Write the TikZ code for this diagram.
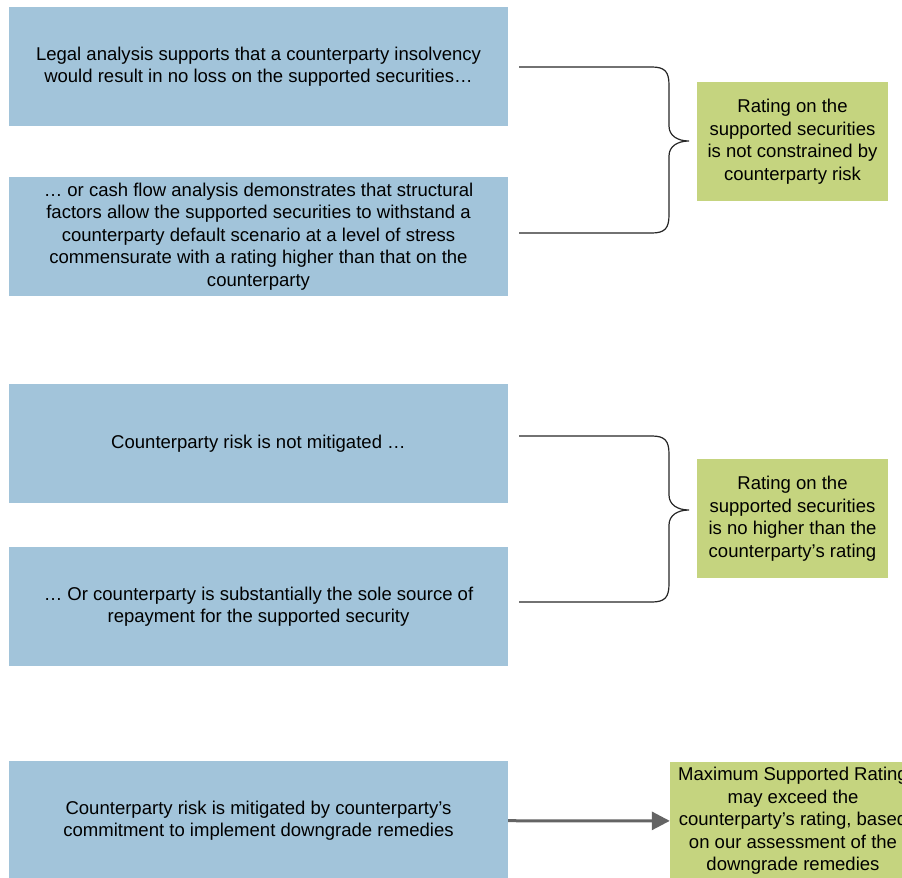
\documentclass[tikz,border=0pt]{standalone}
\usepackage{fontspec}
\setmainfont{Liberation Sans}
\usetikzlibrary{positioning,arrows.meta}
\definecolor{CondBlue}{RGB}{162,196,218}
\definecolor{ResultGreen}{RGB}{197,212,127}
\definecolor{ArrowGray}{RGB}{100,100,100}

\begin{document}
\begin{tikzpicture}[
x=1bp,y=-1bp,
cond/.style={
rectangle,fill=CondBlue,inner sep=0pt,
minimum width=499bp,minimum height=119bp,
align=center,font=\fontsize{18.6}{22.6}\selectfont
},
result/.style={
rectangle,fill=ResultGreen,inner sep=0pt,
minimum width=191bp,minimum height=119bp,
align=center,font=\fontsize{18.6}{22.6}\selectfont
},
brace/.style={draw=black!85,line width=1.2bp},
arrow/.style={-{Triangle[length=18bp,width=18bp]},line width=3bp,draw=ArrowGray}
]
\useasboundingbox (0,0) rectangle (902,878);
\clip (0,0) rectangle (902,878);

\node[cond] (legal) at (258.5,66.5) {Legal analysis supports that a counterparty insolvency\\would result in no loss on the supported securities\ldots};

\node[cond] (cashflow) at (258.5,236.5) {\ldots{} or cash flow analysis demonstrates that structural\\factors allow the supported securities to withstand a\\counterparty default scenario at a level of stress\\commensurate with a rating higher than that on the\\counterparty};

\node[cond] (notmit) at (258.5,443.5) {Counterparty risk is not mitigated \ldots};

\node[cond] (sole) at (258.5,606.5) {\ldots{} Or counterparty is substantially the sole source of\\repayment for the supported security};

\node[cond] (mitigated) at (258.5,820.5) {Counterparty risk is mitigated by counterparty's\\commitment to implement downgrade remedies};

\node[result] (unconstr) at (792.5,141.5) {Rating on the\\supported securities\\is not constrained by\\counterparty risk};

\node[result] (nohigher) at (792.5,518.5) {Rating on the\\supported securities\\is no higher than the\\counterparty's rating};

\node[result,minimum width=246bp] (maxrating) at (793,821) {Maximum Supported Rating\\may exceed the\\counterparty's rating, based\\on our assessment of the\\downgrade remedies};

% braces
\coordinate (braceA) at (519,67);
\coordinate (braceB) at (519,436);

\draw[brace] (braceA) -- ++(133,0) .. controls +(13,0) and +(0,-13) .. ++(17,18)
  -- ++(0,41) .. controls +(0,10) and +(-11,0) .. ++(20,15)
  .. controls +(-11,0) and +(0,-10) .. ++(-20,15)
  -- ++(0,59) .. controls +(0,13) and +(13,0) .. ++(-17,18) -- ++(-133,0);

\draw[brace] (braceB) -- ++(133,0) .. controls +(13,0) and +(0,-13) .. ++(17,18)
  -- ++(0,41) .. controls +(0,10) and +(-11,0) .. ++(20,15)
  .. controls +(-11,0) and +(0,-10) .. ++(-20,15)
  -- ++(0,59) .. controls +(0,13) and +(13,0) .. ++(-17,18) -- ++(-133,0);

\draw[arrow] (mitigated) -- (maxrating);

\end{tikzpicture}
\end{document}
